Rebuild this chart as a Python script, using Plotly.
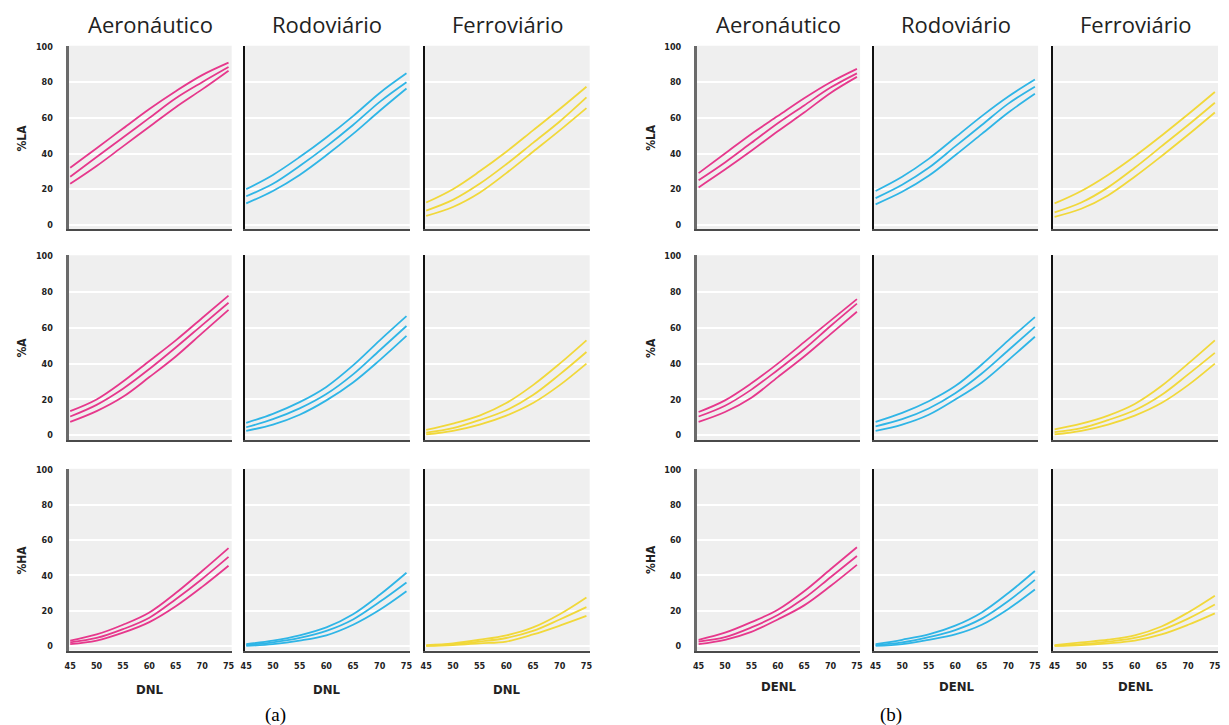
import plotly.graph_objects as go

# ---------------- data ----------------
DNL = [45, 50, 55, 60, 65, 70, 75]
X_TICKS = [45, 50, 55, 60, 65, 70, 75]
Y_TICKS = [0, 20, 40, 60, 80, 100]
MODES = ["Aeronáutico", "Rodoviário", "Ferroviário"]
METRICS = ["%LA", "%A", "%HA"]
X_TITLES = ["DNL", "DENL"]
PANEL_LABELS = ["(a)", "(b)"]
COLORS = ["#e6388c", "#2fb5e6", "#f1d83a"]

# each list: [upper, middle, lower] curve values at DNL points
# panel (a) - DNL
a_LA_aero = [[32, 43, 54, 65, 75, 84, 91], [27, 38, 49, 60, 71, 80, 88.5], [23, 33, 44, 55, 66, 76, 86.5]]
a_LA_rodo = [[20, 28, 38, 49, 61, 74, 85], [16, 23, 33, 44, 56, 69, 80], [12, 19, 28, 39, 51, 64, 76.5]]
a_LA_ferro = [[12.5, 20, 30, 41, 53, 65, 77.5], [8, 14, 23, 34, 46, 58, 71.5], [5, 10, 18, 29, 41, 53, 65.5]]
a_A_aero = [[13.5, 20, 30, 41.5, 53, 65.5, 78], [10.5, 17, 26, 37, 49, 61.5, 74], [7.5, 13.5, 21.5, 32.5, 44, 57, 70]]
a_A_rodo = [[7, 12, 18.5, 27, 39, 53, 66.5], [4.5, 9, 15, 23, 34, 47.5, 61], [2.5, 6, 11.5, 19.5, 29.5, 42, 55.5]]
a_A_ferro = [[3, 6.5, 11, 18, 28, 40, 53], [1.5, 4, 8.5, 14, 22.5, 34, 46.5], [0.5, 2.5, 6, 11, 18, 28, 40]]
a_HA_aero = [[3, 6.5, 12, 19, 30, 42.5, 55.5], [2, 4.5, 9.5, 16, 26.5, 38, 50.5], [1, 3, 7.5, 13.5, 22.5, 33.5, 45.5]]
a_HA_rodo = [[1, 3, 6, 10.5, 18, 29, 41.5], [0.5, 2, 4.5, 8.5, 15, 25, 36], [0, 1, 3, 6, 12, 20.5, 31]]
a_HA_ferro = [[0.5, 1.5, 3.5, 6, 10.5, 18, 27.5], [0, 1, 2.5, 4.5, 8.5, 15, 22], [0, 0.5, 1.5, 2.5, 6.5, 11.5, 17]]
# panel (b) - DENL
b_LA_aero = [[29, 40, 51, 61, 71, 80, 87.5], [25, 35, 46, 57, 67, 77, 85], [21, 31, 41.5, 52.5, 63, 74, 83]]
b_LA_rodo = [[19, 27, 37, 49, 61, 72, 81.5], [15, 22.5, 32, 44, 56, 68, 77.5], [11.5, 18.5, 27.5, 39, 51, 63, 73.5]]
b_LA_ferro = [[12, 19, 28, 38.5, 50, 62, 74.5], [7, 12.5, 21, 32, 44, 56, 68.5], [4.5, 9, 16.5, 27, 38.5, 50.5, 63]]
b_A_aero = [[13, 19.5, 29, 40, 52, 64, 76], [10.5, 16.5, 25.5, 36.5, 48, 61, 73.5], [7.5, 13, 21, 32.5, 44, 56.5, 69]]
b_A_rodo = [[7.5, 12.5, 19, 27.5, 39.5, 53, 66], [5, 9, 15, 23.5, 34.5, 47.5, 60.5], [2.5, 6, 11.5, 20, 29.5, 42, 55]]
b_A_ferro = [[3.3, 6.5, 11, 17.5, 27.5, 40, 53], [1.8, 4, 8.5, 14, 22.5, 34, 46], [0.5, 2.5, 6, 11, 18, 28, 40]]
b_HA_aero = [[3.5, 7.5, 13.5, 20.5, 31, 43.5, 56], [2.5, 5, 10.5, 17.5, 27, 39, 51], [1, 3.5, 8, 15, 23, 34, 46]]
b_HA_rodo = [[1, 3.5, 6.5, 11.5, 19, 30, 42.5], [0.5, 2, 5, 9, 15.5, 25.5, 37.5], [0, 1, 3.5, 6.5, 12, 21, 32]]
b_HA_ferro = [[0.5, 2, 3.5, 6, 11, 19, 28.5], [0, 1, 2.5, 4.5, 9, 15.5, 23.5], [0, 0.5, 1.5, 3, 6.5, 12, 18.5]]

PANELS = [
    [[a_LA_aero, a_LA_rodo, a_LA_ferro], [a_A_aero, a_A_rodo, a_A_ferro], [a_HA_aero, a_HA_rodo, a_HA_ferro]],
    [[b_LA_aero, b_LA_rodo, b_LA_ferro], [b_A_aero, b_A_rodo, b_A_ferro], [b_HA_aero, b_HA_rodo, b_HA_ferro]],
]

# ---------------- layout geometry (pixels) ----------------
W, H = 1229, 725
COL_PX = [[(65, 229), (242, 408), (423, 589)], [(697, 861), (875, 1040), (1055, 1221)]]
ROW_PX = [(42, 227), (253, 439), (468, 651)]
PANEL_LABEL_X = [273, 892]
YTITLE_X = [18, 650]
XTITLE_Y = [690, 687]

TICKFONT = dict(family="DejaVu Sans Condensed", size=9, color="#222222", weight="bold")

fig = go.Figure()
layout = {}
for p in range(2):
    for r in range(3):
        for c in range(3):
            k = p * 9 + r * 3 + c + 1
            xname = "x" if k == 1 else f"x{k}"
            yname = "y" if k == 1 else f"y{k}"
            curves = PANELS[p][r][c]
            for curve in curves:
                fig.add_trace(go.Scatter(
                    x=DNL, y=curve, mode="lines", xaxis=xname, yaxis=yname,
                    line=dict(color=COLORS[c], width=1.8, shape="spline", smoothing=1.0),
                    showlegend=False, hoverinfo="skip"))
            x0, x1 = COL_PX[p][c]
            t, b = ROW_PX[r]
            layout["xaxis" if k == 1 else f"xaxis{k}"] = dict(
                domain=[x0 / W, x1 / W], anchor=yname, range=[44.7, 75.6],
                showgrid=False, zeroline=False, showline=True, linecolor="#4a4a4a", linewidth=2,
                tickvals=X_TICKS, showticklabels=(r == 2), tickfont=TICKFONT,
                ticks="", ticklabelstandoff=6, fixedrange=True)
            layout["yaxis" if k == 1 else f"yaxis{k}"] = dict(
                domain=[(H - b) / H, (H - t) / H], anchor=xname, range=[-2.6, 100.5],
                showgrid=True, gridcolor="white", gridwidth=2, zeroline=False,
                showline=True, linecolor=("#6a6a6a" if c == 0 else "#111111"),
                linewidth=(3 if c == 0 else 1.5),
                tickvals=Y_TICKS, showticklabels=(c == 0), tickfont=TICKFONT,
                ticks="", ticklabelstandoff=11, fixedrange=True)

annotations = []
for p in range(2):
    for c in range(3):
        x0, x1 = COL_PX[p][c]
        cx = (x0 + x1) / 2 / W
        annotations.append(dict(text=MODES[c], x=cx, y=1 - 20 / H, xref="paper", yref="paper",
                                showarrow=False, xanchor="center", yanchor="middle",
                                font=dict(family="Open Sans", size=22, color="#222222")))
        annotations.append(dict(text=X_TITLES[p], x=cx, y=1 - XTITLE_Y[p] / H, xref="paper", yref="paper",
                                showarrow=False, xanchor="center", yanchor="middle",
                                font=dict(family="DejaVu Sans Condensed", size=13, color="#222222", weight="bold")))
    for r in range(3):
        t, b = ROW_PX[r]
        annotations.append(dict(text=METRICS[r], x=YTITLE_X[p] / W, y=1 - (t + b) / 2 / H,
                                xref="paper", yref="paper", showarrow=False, textangle=-90,
                                xanchor="center", yanchor="middle",
                                font=dict(family="DejaVu Sans Condensed", size=12, color="#222222", weight="bold")))
    annotations.append(dict(text=PANEL_LABELS[p], x=PANEL_LABEL_X[p] / W, y=1 - 716 / H,
                            xref="paper", yref="paper", showarrow=False, xanchor="center", yanchor="middle",
                            font=dict(family="Liberation Serif", size=19, color="#000000")))

fig.update_layout(
    width=W, height=H, margin=dict(l=0, r=0, t=0, b=0),
    paper_bgcolor="white", plot_bgcolor="#efefef",
    annotations=annotations, **layout)

fig.write_html("out.html", config={"displayModeBar": False})
